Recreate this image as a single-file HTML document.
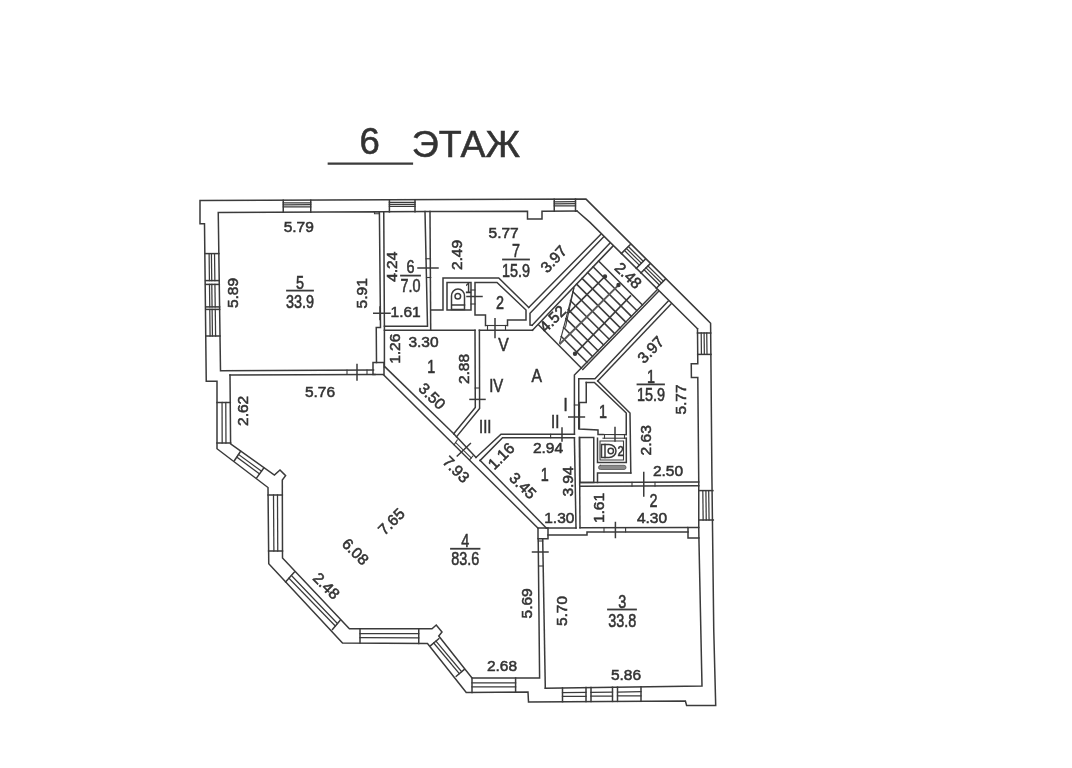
<!DOCTYPE html>
<html lang="ru"><head><meta charset="utf-8"><title>6 ЭТАЖ</title>
<style>
html,body{margin:0;padding:0;background:#fff;}
body{width:1072px;height:768px;overflow:hidden;}
svg{display:block}
svg text{font-family:"Liberation Sans",sans-serif;fill:#333;stroke:#333;stroke-width:0.55px;}
</style></head><body>
<svg width="1072" height="768" viewBox="0 0 1072 768">
<defs><filter id="soft" x="-2%" y="-2%" width="104%" height="104%"><feGaussianBlur stdDeviation="0.6"/></filter></defs>
<rect width="1072" height="768" fill="#fff"/>
<g filter="url(#soft)">
<g fill="none" stroke="#3a3a3a" stroke-width="1.5" stroke-linecap="square" stroke-linejoin="miter">
<path d="M200.00,200.60 L586.00,199.10 L710.60,323.20 L711.90,476.00 L713.75,630.00 L715.70,705.40 L686.60,705.50 L685.40,701.00 L528.50,702.00 L528.00,692.00 L466.25,692.50 L427.50,643.50 L342.50,643.00 L268.75,563.75 L268.00,487.50 L217.00,448.75 L217.00,381.25 L206.25,381.25 L204.50,223.75 L200.00,223.75 Z"/>
<path d="M376.50,362.50 L376.25,327.50 L380.50,327.50 L379.40,211.80 L218.25,212.50 L220.50,370.70 L373.50,370.00"/>
<path d="M230.00,375.10 L375.00,374.40"/>
<path d="M373.00,362.50 L384.00,362.50 L384.00,374.40 L373.00,374.40 Z"/>
<path d="M218.84,253.60 L205.33,253.60"/>
<path d="M219.23,280.60 L205.62,280.60"/>
<path d="M214.52,253.60 L214.88,280.60" stroke-width="1.25"/>
<path d="M211.41,253.60 L211.75,280.60" stroke-width="1.25"/>
<path d="M209.11,253.60 L209.43,280.60" stroke-width="1.25"/>
<path d="M219.29,284.40 L205.66,284.40"/>
<path d="M219.61,306.90 L205.91,306.90"/>
<path d="M214.93,284.40 L215.22,306.90" stroke-width="1.25"/>
<path d="M211.79,284.40 L212.07,306.90" stroke-width="1.25"/>
<path d="M209.48,284.40 L209.75,306.90" stroke-width="1.25"/>
<path d="M219.64,309.40 L205.94,309.40"/>
<path d="M220.02,336.00 L206.23,336.00"/>
<path d="M215.26,309.40 L215.61,336.00" stroke-width="1.25"/>
<path d="M212.11,309.40 L212.44,336.00" stroke-width="1.25"/>
<path d="M209.78,309.40 L210.09,336.00" stroke-width="1.25"/>
<path d="M283.25,212.27 L283.25,200.26"/>
<path d="M310.75,212.18 L310.75,200.15"/>
<path d="M283.25,206.87 L310.75,206.76" stroke-width="1.25"/>
<path d="M283.25,204.82 L310.75,204.72" stroke-width="1.25"/>
<path d="M283.25,202.90 L310.75,202.79" stroke-width="1.25"/>
<path d="M389.40,211.90 L389.40,199.82"/>
<path d="M415.00,211.81 L415.00,199.72"/>
<path d="M389.40,206.47 L415.00,206.37" stroke-width="1.25"/>
<path d="M389.40,204.41 L415.00,204.31" stroke-width="1.25"/>
<path d="M389.40,202.48 L415.00,202.38" stroke-width="1.25"/>
<path d="M554.25,211.32 L554.25,199.15"/>
<path d="M575.50,211.25 L575.50,199.06"/>
<path d="M554.25,205.84 L575.50,205.76" stroke-width="1.25"/>
<path d="M554.25,203.77 L575.50,203.69" stroke-width="1.25"/>
<path d="M554.25,201.83 L575.50,201.74" stroke-width="1.25"/>
<path d="M357.00,364.50 L357.00,380.00"/>
<path d="M347.00,370.00 L347.00,374.50" stroke-width="1.1"/>
<path d="M367.00,370.00 L367.00,374.50" stroke-width="1.1"/>
<path d="M383.75,211.80 L384.40,326.25 L427.50,326.25 L425.00,211.50"/>
<path d="M384.40,330.30 L475.00,330.30"/>
<path d="M384.40,326.25 L384.40,367.00"/>
<path d="M380.00,307.00 L380.00,319.50"/>
<path d="M373.75,313.25 L390.00,313.25"/>
<path d="M430.00,211.50 L430.70,330.30"/>
<path d="M426.00,258.75 L430.50,258.75" stroke-width="1.1"/>
<path d="M426.50,277.50 L430.80,277.50" stroke-width="1.1"/>
<path d="M418.00,268.00 L438.00,268.00"/>
<path d="M379.40,211.80 L430.00,211.50 L527.50,211.20 L527.50,219.00 L542.00,219.00 L542.00,211.20 L577.00,211.00"/>
<path d="M374.50,212.00 L374.50,213.80 L379.40,213.80" stroke-width="1.1"/>
<path d="M577.00,211.00 L590.00,222.40 L697.50,328.75"/>
<path d="M621.30,253.60 L630.10,244.80"/>
<path d="M636.20,268.32 L645.00,259.52"/>
<path d="M624.47,250.43 L639.37,265.15" stroke-width="1.25"/>
<path d="M626.40,248.49 L641.30,263.21" stroke-width="1.25"/>
<path d="M628.34,246.56 L643.24,261.28" stroke-width="1.25"/>
<path d="M640.90,272.96 L649.70,264.16"/>
<path d="M656.30,288.18 L665.10,279.38"/>
<path d="M644.07,269.79 L659.47,285.01" stroke-width="1.25"/>
<path d="M646.00,267.86 L661.40,283.07" stroke-width="1.25"/>
<path d="M647.94,265.92 L663.34,281.14" stroke-width="1.25"/>
<path d="M697.50,328.75 L697.80,363.75 L691.25,363.75 L691.40,377.50 L697.80,377.50 L698.75,482.00 L698.75,527.50"/>
<path d="M698.90,538.00 L702.00,686.00 L545.30,688.20"/>
<path d="M697.50,333.00 L710.70,333.00"/>
<path d="M697.70,354.40 L711.00,354.40"/>
<path d="M701.20,333.00 L701.42,354.40" stroke-width="1.25"/>
<path d="M704.10,333.00 L704.35,354.40" stroke-width="1.25"/>
<path d="M706.74,333.00 L707.01,354.40" stroke-width="1.25"/>
<path d="M698.90,490.60 L712.90,490.60"/>
<path d="M699.20,520.00 L713.30,520.00"/>
<path d="M702.82,490.60 L703.15,520.00" stroke-width="1.25"/>
<path d="M705.90,490.60 L706.25,520.00" stroke-width="1.25"/>
<path d="M708.70,490.60 L709.07,520.00" stroke-width="1.25"/>
<path d="M431.00,310.00 L443.00,310.00 L443.00,278.00 L498.75,278.00 L528.75,307.50"/>
<path d="M447.00,282.50 L471.00,282.50 L471.00,310.00 L447.00,310.00 Z"/>
<path d="M507.50,325.50 L507.50,320.00 L526.00,320.00 L526.00,310.00 L497.00,282.50 L475.00,282.50 L475.00,315.00 L485.50,315.00 L485.50,325.50"/>
<path d="M485.50,325.50 L507.50,325.50" stroke-width="1.1"/>
<path d="M487.50,325.50 L487.50,330.00" stroke-width="1.1"/>
<path d="M505.50,325.50 L505.50,330.00" stroke-width="1.1"/>
<path d="M495.00,318.75 L495.00,337.50"/>
<path d="M471.00,290.00 L475.00,290.00" stroke-width="1.1"/>
<path d="M471.00,304.00 L475.00,304.00" stroke-width="1.1"/>
<path d="M467.00,296.50 L482.00,296.50"/>
<path d="M451.5,309.5 V296 A6,6.5 0 0 1 464.5,296 V309.5 Z"/>
<circle cx="457.8" cy="296.3" r="2.8"/>
<path d="M452.00,305.00 L464.50,305.00"/>
<path d="M479.40,330.30 L532.50,330.30"/>
<path d="M528.75,307.50 L600.60,234.50"/>
<path d="M532.20,325.20 L530.00,325.00 L530.00,313.20 L603.70,236.80"/>
<path d="M532.20,325.20 L610.00,243.10"/>
<path d="M532.50,330.30 L613.10,245.90"/>
<path d="M656.90,290.00 L581.25,368.00"/>
<path d="M658.40,291.60 L582.80,369.40"/>
<path d="M538.75,325.00 L581.25,368.00"/>
<path d="M598.59,261.09 L642.42,304.92" stroke-width="1.55"/>
<path d="M593.09,266.86 L636.88,310.65" stroke-width="1.55"/>
<path d="M587.58,272.62 L631.33,316.37" stroke-width="1.55"/>
<path d="M582.08,278.39 L625.78,322.09" stroke-width="1.55"/>
<path d="M576.57,284.15 L620.23,327.81" stroke-width="1.55"/>
<path d="M572.92,291.77 L614.68,333.53" stroke-width="1.55"/>
<path d="M570.60,300.72 L609.13,339.25" stroke-width="1.55"/>
<path d="M568.28,309.67 L603.58,344.97" stroke-width="1.55"/>
<path d="M565.97,318.63 L598.03,350.69" stroke-width="1.55"/>
<path d="M563.65,327.58 L592.49,356.42" stroke-width="1.55"/>
<path d="M561.33,336.53 L586.94,362.14" stroke-width="1.55"/>
<path d="M573.90,288.00 L559.60,343.20" stroke-width="1.1"/>
<path d="M573.90,288.00 L565.50,327.00" stroke-width="1.1"/>
<path d="M618.50,285.00 L560.20,343.60" stroke-width="1.9" stroke="#5a5a5a"/>
<path d="M605.00,276.50 L569.50,312.00" stroke-width="1.6"/>
<path d="M630.50,296.00 L575.00,353.75" stroke-width="1.6"/>
<circle cx="605" cy="276.5" r="1.45" fill="#333"/>
<circle cx="618.5" cy="285" r="1.45" fill="#333"/>
<circle cx="575" cy="353.75" r="1.45" fill="#333"/>
<path d="M668.00,301.25 L595.00,378.75 L578.75,378.75 L578.75,428.75"/>
<path d="M671.25,303.75 L597.75,381.00"/>
<path d="M581.25,368.00 L574.40,375.00 L574.40,434.30"/>
<path d="M597.75,381.00 L630.00,413.00 L630.80,473.00"/>
<path d="M586.25,382.50 L594.40,382.50 L626.25,413.00 L626.25,434.60"/>
<path d="M586.25,382.50 L586.25,402.50 L579.40,402.50 L579.40,429.00 L598.00,430.00 L598.00,434.50 L603.00,434.50"/>
<path d="M603.00,434.50 L626.25,434.60" stroke-width="1.1"/>
<path d="M603.00,438.20 L626.25,438.20" stroke-width="1.1"/>
<path d="M604.50,434.50 L604.50,438.20" stroke-width="1.1"/>
<path d="M624.50,434.50 L624.50,438.20" stroke-width="1.1"/>
<path d="M615.00,427.50 L615.00,441.00"/>
<path d="M574.40,405.00 L578.75,405.00" stroke-width="1.1"/>
<path d="M568.75,417.00 L584.40,417.00"/>
<path d="M579.60,437.50 L593.75,437.50 L593.75,482.50 L579.90,482.50 Z"/>
<path d="M597.50,482.50 L597.50,473.00 L630.80,473.00"/>
<path d="M597.50,438.20 L597.50,462.50 L626.30,462.50 L626.30,438.20"/>
<path d="M600.00,441.00 L623.50,441.00 L623.50,460.00 L600.00,460.00 Z" stroke-width="1.1"/>
<rect x="598.5" y="465.3" width="27.5" height="4.2" rx="2" fill="#8a8a8a" stroke="#555" stroke-width="0.8"/>
<path d="M601.5,444.5 H609 A7,6.5 0 0 1 609,457.5 H601.5 Z"/>
<circle cx="610.8" cy="451" r="2.7"/>
<path d="M605.00,444.50 L605.00,457.50"/>
<path d="M579.90,482.50 L698.75,482.00"/>
<path d="M580.00,486.30 L698.80,485.80"/>
<path d="M632.00,482.40 L632.00,486.20" stroke-width="1.1"/>
<path d="M655.00,482.30 L655.00,486.10" stroke-width="1.1"/>
<path d="M643.75,472.50 L643.75,496.00"/>
<path d="M574.40,437.80 L576.00,528.00"/>
<path d="M579.40,437.50 L580.00,527.80"/>
<path d="M476.00,457.50 L501.00,434.30 L574.40,434.30"/>
<path d="M480.00,460.60 L502.50,437.80 L574.40,437.80"/>
<path d="M550.60,434.30 L550.60,437.80" stroke-width="1.1"/>
<path d="M562.00,428.00 L562.00,441.00"/>
<path d="M385.00,366.90 L453.75,433.75"/>
<path d="M480.00,460.30 L546.25,528.00"/>
<path d="M383.75,375.00 L537.80,528.00"/>
<path d="M453.75,433.75 L476.00,457.40"/>
<path d="M457.25,440.00 L454.10,444.75" stroke-width="1.1"/>
<path d="M472.90,456.00 L469.75,459.75" stroke-width="1.1"/>
<path d="M455.70,442.60 L471.30,457.90" stroke-width="1.1"/>
<path d="M470.40,443.50 L457.25,456.00"/>
<path d="M475.00,330.30 L475.30,407.50 L453.75,433.75"/>
<path d="M479.40,330.30 L479.60,408.50 L456.50,436.80"/>
<path d="M475.20,388.00 L479.50,388.00" stroke-width="1.1"/>
<path d="M470.00,399.40 L485.00,399.40"/>
<path d="M546.25,528.00 L576.00,528.00"/>
<path d="M538.00,528.00 L548.00,528.00 L548.00,538.75 L538.00,538.75 Z"/>
<path d="M580.00,527.80 L687.50,527.50"/>
<path d="M548.00,535.00 L587.00,535.00 L587.00,532.00 L688.00,532.00"/>
<path d="M688.00,527.50 L698.75,527.50 L698.90,538.00 L688.00,538.00 Z"/>
<path d="M604.00,527.70 L604.00,532.00" stroke-width="1.1"/>
<path d="M625.60,527.60 L625.60,532.00" stroke-width="1.1"/>
<path d="M615.40,522.50 L615.40,537.50"/>
<path d="M538.20,538.75 L539.60,678.00 L472.00,678.00 L438.75,636.00 L442.00,632.00 L436.25,625.00 L432.00,628.75 L349.40,628.75 L282.50,558.00 L282.30,480.00 L285.60,475.60 L280.00,470.00 L274.40,475.00 L230.60,443.75 L230.00,375.10"/>
<path d="M542.70,538.75 L545.30,688.20"/>
<path d="M538.30,541.00 L542.70,541.00" stroke-width="1.1"/>
<path d="M538.60,566.00 L543.00,566.00" stroke-width="1.1"/>
<path d="M532.50,552.00 L548.00,552.00"/>
<path d="M230.30,402.50 L217.00,402.50"/>
<path d="M230.60,443.00 L217.00,443.00"/>
<path d="M225.78,402.50 L225.98,443.00" stroke-width="1.25"/>
<path d="M222.05,402.50 L222.17,443.00" stroke-width="1.25"/>
<path d="M240.60,451.25 L234.40,460.60"/>
<path d="M263.75,468.00 L256.90,477.50"/>
<path d="M238.49,454.43 L261.42,471.23" stroke-width="1.25"/>
<path d="M236.76,457.05 L259.50,473.89" stroke-width="1.25"/>
<path d="M282.30,495.00 L268.10,495.00"/>
<path d="M282.50,551.00 L268.60,551.00"/>
<path d="M277.47,495.00 L277.77,551.00" stroke-width="1.25"/>
<path d="M273.50,495.00 L273.88,551.00" stroke-width="1.25"/>
<path d="M294.40,572.00 L285.60,582.00"/>
<path d="M340.00,620.60 L332.50,629.40"/>
<path d="M291.41,575.40 L337.45,623.59" stroke-width="1.25"/>
<path d="M288.94,578.20 L335.35,626.06" stroke-width="1.25"/>
<path d="M360.00,628.75 L360.00,643.10"/>
<path d="M418.75,628.75 L418.75,643.40"/>
<path d="M360.00,633.63 L418.75,633.73" stroke-width="1.25"/>
<path d="M360.00,637.65 L418.75,637.83" stroke-width="1.25"/>
<path d="M438.75,638.75 L430.60,645.60"/>
<path d="M464.40,669.40 L456.25,676.25"/>
<path d="M435.98,641.08 L461.63,671.73" stroke-width="1.25"/>
<path d="M433.70,643.00 L459.35,673.65" stroke-width="1.25"/>
<path d="M472.00,678.00 L472.00,692.40"/>
<path d="M515.60,678.00 L515.60,692.20"/>
<path d="M472.00,682.90 L515.60,682.83" stroke-width="1.25"/>
<path d="M472.00,686.93 L515.60,686.80" stroke-width="1.25"/>
<path d="M562.50,687.95 L562.50,701.69"/>
<path d="M586.00,687.62 L586.00,701.55"/>
<path d="M562.50,692.62 L586.00,692.36" stroke-width="1.25"/>
<path d="M562.50,696.47 L586.00,696.26" stroke-width="1.25"/>
<path d="M591.00,687.55 L591.00,701.52"/>
<path d="M612.50,687.24 L612.50,701.39"/>
<path d="M591.00,692.30 L612.50,692.05" stroke-width="1.25"/>
<path d="M591.00,696.21 L612.50,696.02" stroke-width="1.25"/>
<path d="M617.50,687.17 L617.50,701.36"/>
<path d="M641.00,686.84 L641.00,701.22"/>
<path d="M617.50,692.00 L641.00,691.73" stroke-width="1.25"/>
<path d="M617.50,695.97 L641.00,695.76" stroke-width="1.25"/>
<path d="M287,290.6 H313" stroke-width="1.8"/>
<path d="M401,275.6 H420" stroke-width="1.8"/>
<path d="M503,259.5 H529" stroke-width="1.8"/>
<path d="M637.5,384.4 H664" stroke-width="1.8"/>
<path d="M608,609.5 H636" stroke-width="1.8"/>
<path d="M451,548.75 H479.5" stroke-width="1.8"/>
<path d="M328.75,163.6 H412" stroke-width="2.2"/>
</g>
<g>
<text transform="translate(298.75,226.50)" font-size="15.5" text-anchor="middle" dominant-baseline="central">5.79</text>
<text transform="translate(232.70,293.00) rotate(-90)" font-size="15.5" text-anchor="middle" dominant-baseline="central">5.89</text>
<text transform="translate(361.00,293.30) rotate(-90)" font-size="15.5" text-anchor="middle" dominant-baseline="central">5.91</text>
<text transform="translate(391.50,266.75) rotate(-90)" font-size="15.5" text-anchor="middle" dominant-baseline="central">4.24</text>
<text transform="translate(405.60,311.40)" font-size="15.5" text-anchor="middle" dominant-baseline="central">1.61</text>
<text transform="translate(456.50,255.00) rotate(-90)" font-size="15.5" text-anchor="middle" dominant-baseline="central">2.49</text>
<text transform="translate(503.60,232.00)" font-size="15.5" text-anchor="middle" dominant-baseline="central">5.77</text>
<text transform="translate(553.50,259.00) rotate(-47)" font-size="15.5" text-anchor="middle" dominant-baseline="central">3.97</text>
<text transform="translate(628.50,275.40) rotate(44)" font-size="15.5" text-anchor="middle" dominant-baseline="central">2.48</text>
<text transform="translate(552.50,318.75) rotate(-45)" font-size="15.5" text-anchor="middle" dominant-baseline="central">4.52</text>
<text transform="translate(650.50,349.50) rotate(-46)" font-size="15.5" text-anchor="middle" dominant-baseline="central">3.97</text>
<text transform="translate(680.50,399.50) rotate(-90)" font-size="15.5" text-anchor="middle" dominant-baseline="central">5.77</text>
<text transform="translate(645.20,440.30) rotate(-90)" font-size="15.5" text-anchor="middle" dominant-baseline="central">2.63</text>
<text transform="translate(668.00,470.30)" font-size="15.5" text-anchor="middle" dominant-baseline="central">2.50</text>
<text transform="translate(652.00,517.25)" font-size="15.5" text-anchor="middle" dominant-baseline="central">4.30</text>
<text transform="translate(598.50,508.00) rotate(-90)" font-size="15.5" text-anchor="middle" dominant-baseline="central">1.61</text>
<text transform="translate(567.25,481.50) rotate(-90)" font-size="15.5" text-anchor="middle" dominant-baseline="central">3.94</text>
<text transform="translate(559.30,517.75)" font-size="15.5" text-anchor="middle" dominant-baseline="central">1.30</text>
<text transform="translate(548.00,447.00)" font-size="15.5" text-anchor="middle" dominant-baseline="central">2.94</text>
<text transform="translate(501.00,456.00) rotate(-45)" font-size="15.5" text-anchor="middle" dominant-baseline="central">1.16</text>
<text transform="translate(523.00,485.50) rotate(44)" font-size="15.5" text-anchor="middle" dominant-baseline="central">3.45</text>
<text transform="translate(456.20,469.20) rotate(45)" font-size="15.5" text-anchor="middle" dominant-baseline="central">7.93</text>
<text transform="translate(432.20,396.00) rotate(44)" font-size="15.5" text-anchor="middle" dominant-baseline="central">3.50</text>
<text transform="translate(463.50,369.00) rotate(-90)" font-size="15.5" text-anchor="middle" dominant-baseline="central">2.88</text>
<text transform="translate(423.50,341.00)" font-size="15.5" text-anchor="middle" dominant-baseline="central">3.30</text>
<text transform="translate(394.40,348.75) rotate(-90)" font-size="15.5" text-anchor="middle" dominant-baseline="central">1.26</text>
<text transform="translate(320.00,391.00)" font-size="15.5" text-anchor="middle" dominant-baseline="central">5.76</text>
<text transform="translate(242.20,410.90) rotate(-90)" font-size="15.5" text-anchor="middle" dominant-baseline="central">2.62</text>
<text transform="translate(391.25,521.50) rotate(-45)" font-size="15.5" text-anchor="middle" dominant-baseline="central">7.65</text>
<text transform="translate(355.50,551.50) rotate(45)" font-size="15.5" text-anchor="middle" dominant-baseline="central">6.08</text>
<text transform="translate(326.50,585.80) rotate(45)" font-size="15.5" text-anchor="middle" dominant-baseline="central">2.48</text>
<text transform="translate(526.75,603.40) rotate(-90)" font-size="15.5" text-anchor="middle" dominant-baseline="central">5.69</text>
<text transform="translate(561.00,611.00) rotate(-90)" font-size="15.5" text-anchor="middle" dominant-baseline="central">5.70</text>
<text transform="translate(502.00,665.60)" font-size="15.5" text-anchor="middle" dominant-baseline="central">2.68</text>
<text transform="translate(626.00,674.25)" font-size="15.5" text-anchor="middle" dominant-baseline="central">5.86</text>
<text transform="translate(300.00,282.00) scale(0.8,1)" font-size="18" text-anchor="middle" dominant-baseline="central">5</text>
<text transform="translate(300.00,301.00) scale(0.8,1)" font-size="18" text-anchor="middle" dominant-baseline="central">33.9</text>
<text transform="translate(410.50,266.50) scale(0.8,1)" font-size="18" text-anchor="middle" dominant-baseline="central">6</text>
<text transform="translate(410.50,285.00) scale(0.8,1)" font-size="18" text-anchor="middle" dominant-baseline="central">7.0</text>
<text transform="translate(516.00,250.60) scale(0.8,1)" font-size="18" text-anchor="middle" dominant-baseline="central">7</text>
<text transform="translate(516.00,270.00) scale(0.8,1)" font-size="18" text-anchor="middle" dominant-baseline="central">15.9</text>
<text transform="translate(651.00,376.00) scale(0.8,1)" font-size="18" text-anchor="middle" dominant-baseline="central">1</text>
<text transform="translate(651.00,394.30) scale(0.8,1)" font-size="18" text-anchor="middle" dominant-baseline="central">15.9</text>
<text transform="translate(622.30,601.00) scale(0.8,1)" font-size="18" text-anchor="middle" dominant-baseline="central">3</text>
<text transform="translate(622.30,620.25) scale(0.8,1)" font-size="18" text-anchor="middle" dominant-baseline="central">33.8</text>
<text transform="translate(465.30,540.00) scale(0.8,1)" font-size="18" text-anchor="middle" dominant-baseline="central">4</text>
<text transform="translate(465.30,558.75) scale(0.8,1)" font-size="18" text-anchor="middle" dominant-baseline="central">83.6</text>
<text transform="translate(431.25,366.50) scale(0.8,1)" font-size="18" text-anchor="middle" dominant-baseline="central">1</text>
<text transform="translate(500.00,302.50) scale(0.8,1)" font-size="18" text-anchor="middle" dominant-baseline="central">2</text>
<text transform="translate(468.30,289.00) scale(0.8,1)" font-size="14" text-anchor="middle" dominant-baseline="central">1</text>
<text transform="translate(544.75,474.00) scale(0.8,1)" font-size="18" text-anchor="middle" dominant-baseline="central">1</text>
<text transform="translate(603.00,411.00) scale(0.8,1)" font-size="18" text-anchor="middle" dominant-baseline="central">1</text>
<text transform="translate(620.60,452.00) scale(0.8,1)" font-size="14" text-anchor="middle" dominant-baseline="central">2</text>
<text transform="translate(653.50,500.00) scale(0.8,1)" font-size="18" text-anchor="middle" dominant-baseline="central">2</text>
<text transform="translate(536.75,375.50) scale(0.85,1)" font-size="18.5" text-anchor="middle" dominant-baseline="central">A</text>
<text transform="translate(503.50,344.25) scale(0.85,1)" font-size="18.5" text-anchor="middle" dominant-baseline="central">V</text>
<text transform="translate(496.25,386.00) scale(0.85,1)" font-size="17.5" text-anchor="middle" dominant-baseline="central">IV</text>
<text transform="translate(485.30,426.50) scale(0.85,1)" font-size="17.5" text-anchor="middle" dominant-baseline="central">III</text>
<text transform="translate(555.25,422.00) scale(0.85,1)" font-size="17.5" text-anchor="middle" dominant-baseline="central">II</text>
<text transform="translate(565.60,405.00) scale(0.85,1)" font-size="17.5" text-anchor="middle" dominant-baseline="central">I</text>
<text x="369.6" y="153.6" font-size="36.5" text-anchor="middle" stroke-width="0.15">6</text>
<text x="465.9" y="157" font-size="37.5" text-anchor="middle" stroke-width="0.15">ЭТАЖ</text>
</g>
</g>
</svg>
</body></html>
